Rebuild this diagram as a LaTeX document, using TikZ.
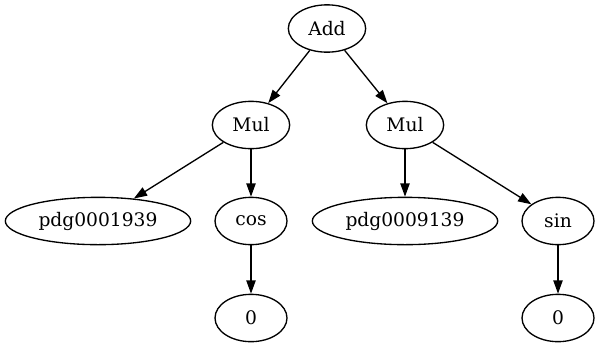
\documentclass[tikz,border=0pt]{standalone}
\usepackage{fontspec}
\setmainfont{DejaVu Serif}
\usetikzlibrary{shapes.geometric,arrows.meta}
\begin{document}
\begin{tikzpicture}[x=0.75pt,y=-0.75pt,
  gv/.style={draw,ellipse,line width=1pt,inner sep=0pt,minimum height=35.5pt,font=\fontsize{14pt}{16pt}\selectfont},
  small/.style={gv,minimum width=54pt},
  mid/.style={gv,minimum width=58pt},
  wide/.style={gv,minimum width=139pt},
  edge/.style={line width=1pt,-{Triangle[length=10pt,width=7pt]}}]
\useasboundingbox (0,0) rectangle (599,347);
\node[mid] (add) at (327,28.5) {Add};
\node[mid] (mul1) at (251,125) {Mul};
\node[mid] (mul2) at (405,125) {Mul};
\node[wide] (pdg1) at (98,221) {pdg0001939};
\node[small] (cos) at (251,221) {cos};
\node[wide] (pdg2) at (405,221) {pdg0009139};
\node[small] (sin) at (558,221) {sin};
\node[small] (z1) at (251,318) {0};
\node[small] (z2) at (558,318) {0};
\draw[edge] (add) -- (mul1);
\draw[edge] (add) -- (mul2);
\draw[edge] (mul1) -- (pdg1);
\draw[edge] (mul1) -- (cos);
\draw[edge] (mul2) -- (pdg2);
\draw[edge] (mul2) -- (sin);
\draw[edge] (cos) -- (z1);
\draw[edge] (sin) -- (z2);
\end{tikzpicture}
\end{document}
